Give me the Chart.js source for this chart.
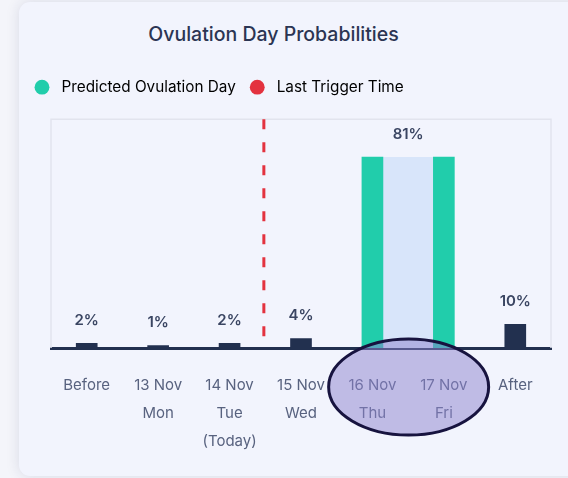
<!DOCTYPE html>
<html>
<head>
<meta charset="utf-8">
<script src="https://cdn.jsdelivr.net/npm/chart.js@4.4.0/dist/chart.umd.min.js"></script>
<style>
  html, body { margin: 0; padding: 0; background: #f4f5fa; overflow: hidden; }
  .card {
    position: absolute; left: 19px; top: 2px; width: 600px; height: 474px;
    background: #f2f4fd; border-radius: 11px;
    box-shadow: 0 0 14px rgba(30, 40, 90, 0.13);
  }
  .title {
    position: absolute; left: 0; top: 22px; width: 547px; line-height: 24px;
    text-align: center; font: 500 19.5px Inter, "Open Sans", sans-serif; color: #2b3553;
  }
  .wrap { position: absolute; left: 0; top: 0; width: 568px; height: 478px; }
</style>
</head>
<body>
<div class="card"></div>
<div class="title">Ovulation Day Probabilities</div>
<div class="wrap"><canvas id="ovuChart"></canvas></div>
<script>
// chart data
const dayLabels = [
  ['Before'],
  ['13 Nov', 'Mon'],
  ['14 Nov', 'Tue', '(Today)'],
  ['15 Nov', 'Wed'],
  ['16 Nov', 'Thu'],
  ['17 Nov', 'Fri'],
  ['After']
];
const probabilities = [2, 1, 2, 4, 81, 81, 10];
const predictedDays = [4, 5];          // indexes of the predicted window
const triggerAfter = 2;                // last trigger falls between 14 Nov and 15 Nov
const legendNames = ['Predicted Ovulation Day', 'Last Trigger Time'];

const navy = '#22304f';
const teal = '#21cdab';
const red = '#e3323f';
const textCol = '#58627f';
const font = 'Inter, "Open Sans", sans-serif';

const barColors = probabilities.map((v, i) => predictedDays.includes(i) ? teal : navy);

// plot frame + blue band + trigger line + labels + circle
const extras = {
  id: 'extras',
  beforeInit(chart) {
    // a bit more room under the legend
    const fit = chart.legend.fit;
    chart.legend.fit = function () {
      fit.call(this);
      this.height += 14.5;
    };
  },
  beforeDatasetsDraw(chart) {
    const { ctx, chartArea: a } = chart;
    ctx.save();
    ctx.strokeStyle = '#e2e4ee';
    ctx.lineWidth = 1.5;
    ctx.beginPath();
    ctx.moveTo(a.left, a.bottom);
    ctx.lineTo(a.left, a.top);
    ctx.lineTo(a.right, a.top);
    ctx.lineTo(a.right, a.bottom);
    ctx.stroke();

    const bars = chart.getDatasetMeta(0).data;
    const b1 = bars[predictedDays[0]], b2 = bars[predictedDays[predictedDays.length - 1]];
    ctx.fillStyle = '#d8e5fa';
    ctx.fillRect(b1.x + b1.width / 2, b1.y, (b2.x - b2.width / 2) - (b1.x + b1.width / 2), b1.base - b1.y);
    ctx.restore();
  },
  afterDatasetsDraw(chart) {
    const { ctx, chartArea: a, scales: { x } } = chart;
    const bars = chart.getDatasetMeta(0).data;
    ctx.save();
    // trigger line
    const tx = x.getPixelForValue(triggerAfter + 0.48);
    ctx.strokeStyle = red;
    ctx.lineWidth = 3;
    ctx.setLineDash([10, 13]);
    ctx.beginPath();
    ctx.moveTo(tx, a.top);
    ctx.lineTo(tx, a.bottom);
    ctx.stroke();
    ctx.setLineDash([]);

    // value labels
    ctx.fillStyle = '#3a4562';
    ctx.font = '600 15px ' + font;
    ctx.textAlign = 'center';
    ctx.textBaseline = 'middle';
    probabilities.forEach((v, i) => {
      if (predictedDays.includes(i) && i !== predictedDays[0]) return;
      let px = bars[i].x;
      if (i === predictedDays[0]) {
        const last = bars[predictedDays[predictedDays.length - 1]];
        px = (bars[i].x + last.x) / 2;
      }
      ctx.fillText(v + '%', px, bars[i].y - 23);
    });
    ctx.restore();
  },
  afterDraw(chart) {
    const { ctx, chartArea: a, scales: { x } } = chart;
    const p1 = x.getPixelForValue(predictedDays[0]);
    const p2 = x.getPixelForValue(predictedDays[predictedDays.length - 1]);
    ctx.save();
    ctx.beginPath();
    ctx.ellipse((p1 + p2) / 2 + 0.5, a.bottom + 39, 80, 48, 0, 0, Math.PI * 2);
    ctx.fillStyle = 'rgba(140, 130, 205, 0.5)';
    ctx.fill();
    ctx.lineWidth = 3;
    ctx.strokeStyle = '#17133f';
    ctx.stroke();
    ctx.restore();
  }
};

const ctx = document.getElementById('ovuChart').getContext('2d');
const ovuChart = new Chart(ctx, {
  type: 'bar',
  data: {
    labels: dayLabels,
    datasets: [{
      data: probabilities,
      backgroundColor: barColors,
      barThickness: 21
    }]
  },
  options: {
    responsive: true,
    maintainAspectRatio: false,
    animation: false,
    layout: { padding: { left: 20.5, right: 17, top: 65.5, bottom: 0 } },
    scales: {
      x: {
        grid: { display: false, drawTicks: false },
        border: { display: true, color: navy, width: 3 },
        ticks: { color: textCol, font: { family: font, size: 15, lineHeight: 28 / 15 }, padding: 23, maxRotation: 0, autoSkip: false }
      },
      y: {
        min: 0, max: 97,
        grid: { display: false, drawTicks: false },
        border: { display: false },
        ticks: { display: false },
        afterFit(scale) { scale.width = 30.5; }
      }
    },
    plugins: {
      legend: {
        display: true,
        align: 'start',
        labels: {
          usePointStyle: true,
          pointStyle: 'circle',
          boxWidth: 15, boxHeight: 10.5,
          padding: 14,
          color: textCol,
          font: { family: font, size: 15.3 },
          generateLabels() {
            return legendNames.map((n, i) => ({
              text: ' ' + n,
              fillStyle: i === 0 ? teal : red,
              strokeStyle: i === 0 ? teal : red,
              lineWidth: 0,
              pointStyle: 'circle',
              datasetIndex: 0
            }));
          }
        }
      },
      tooltip: { enabled: false }
    }
  },
  plugins: [extras]
});
</script>
</body>
</html>
